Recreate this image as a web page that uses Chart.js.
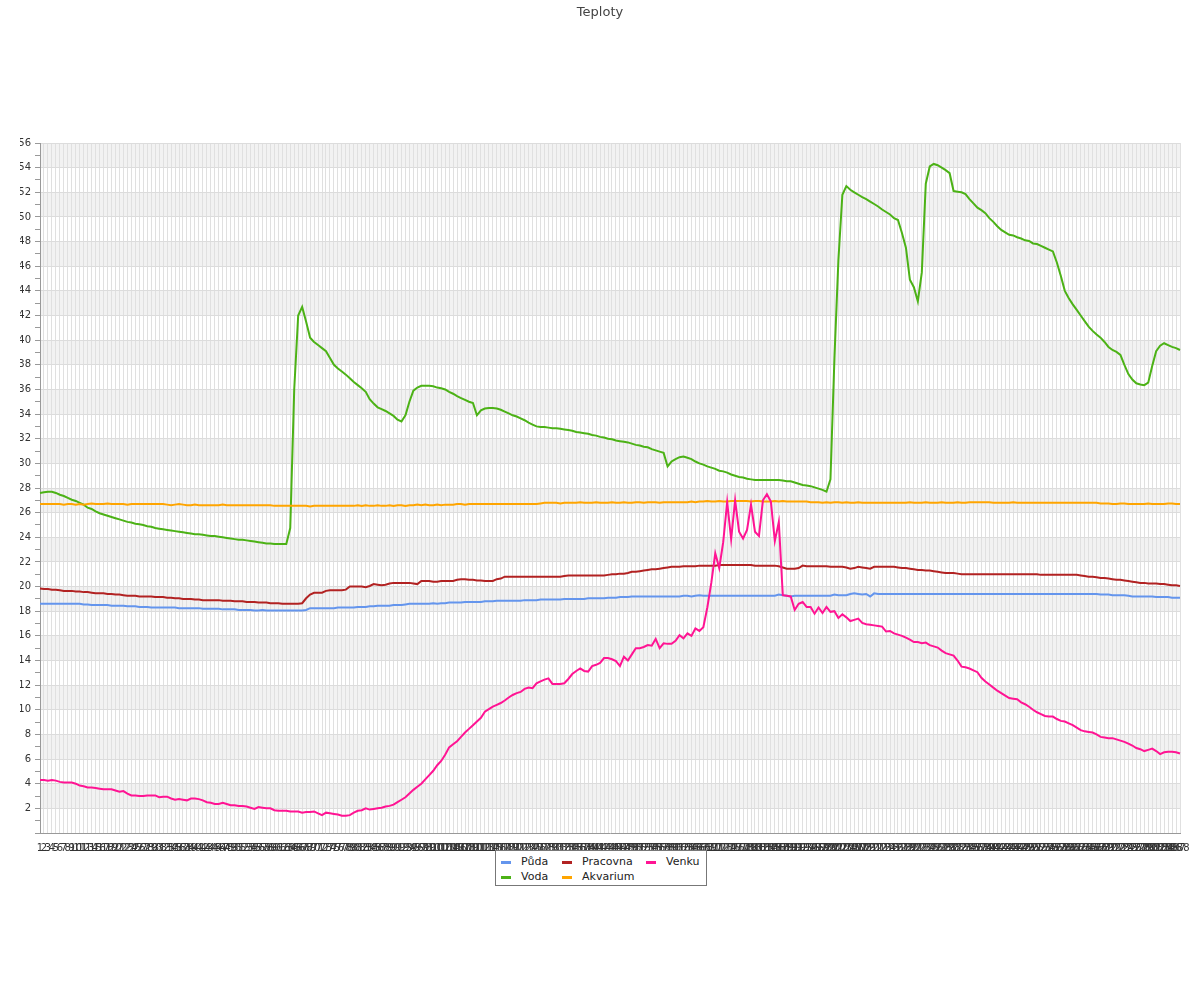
<!DOCTYPE html>
<html><head><meta charset="utf-8">
<script src="https://cdn.jsdelivr.net/npm/chart.js@4.4.1/dist/chart.umd.min.js"></script>
<style>
html,body{margin:0;padding:0;background:#fff;}
#wrap{position:relative;width:1200px;height:1000px;}
#c{position:absolute;left:0;top:0;}
#legend{position:absolute;left:495px;top:850px;width:210px;height:34px;border:1px solid #777;background:#fff;font:11px "DejaVu Sans",sans-serif;color:#222;}
.item{position:absolute;white-space:nowrap;line-height:13px;}
.sw{position:absolute;width:10px;height:3px;}
</style></head><body>
<div id="wrap"><canvas id="c" width="1200" height="1000"></canvas><div id="legend"></div></div>
<script>
const categories = Array.from({length: 288}, (_, i) => String(i + 1));

const puda = [
18.6,18.6,18.6,18.6,18.6,18.6,18.6,18.6,18.6,18.6,
18.6,18.55,18.55,18.5,18.5,18.5,18.5,18.5,18.45,18.45,
18.45,18.45,18.4,18.4,18.4,18.35,18.35,18.35,18.3,18.3,
18.3,18.3,18.3,18.3,18.3,18.25,18.25,18.25,18.25,18.25,
18.25,18.2,18.2,18.2,18.2,18.2,18.15,18.15,18.15,18.15,
18.1,18.1,18.1,18.1,18.05,18.05,18.1,18.05,18.05,18.05,
18.05,18.05,18.05,18.05,18.05,18.05,18.05,18.1,18.25,18.25,
18.25,18.25,18.25,18.25,18.25,18.3,18.3,18.3,18.3,18.3,
18.35,18.35,18.35,18.4,18.4,18.45,18.45,18.45,18.45,18.5,
18.5,18.5,18.55,18.6,18.6,18.6,18.6,18.6,18.6,18.65,
18.6,18.65,18.65,18.7,18.7,18.7,18.7,18.75,18.75,18.75,
18.75,18.75,18.8,18.8,18.8,18.85,18.85,18.85,18.85,18.85,
18.85,18.85,18.9,18.9,18.9,18.9,18.95,18.95,18.95,18.95,
18.95,18.95,19.0,19.0,19.0,19.0,19.0,19.0,19.05,19.05,
19.05,19.05,19.05,19.1,19.1,19.1,19.15,19.15,19.15,19.2,
19.2,19.2,19.2,19.2,19.2,19.2,19.2,19.2,19.2,19.2,
19.2,19.2,19.25,19.25,19.2,19.25,19.3,19.25,19.25,19.25,
19.25,19.25,19.25,19.25,19.25,19.25,19.25,19.25,19.25,19.25,
19.25,19.25,19.25,19.25,19.25,19.25,19.35,19.3,19.25,19.2,
19.25,19.25,19.25,19.25,19.25,19.25,19.25,19.25,19.25,19.25,
19.35,19.3,19.3,19.3,19.4,19.45,19.4,19.35,19.4,19.2,
19.45,19.4,19.4,19.4,19.4,19.4,19.4,19.4,19.4,19.4,
19.4,19.4,19.4,19.4,19.4,19.4,19.4,19.4,19.4,19.4,
19.4,19.4,19.4,19.4,19.4,19.4,19.4,19.4,19.4,19.4,
19.4,19.4,19.4,19.4,19.4,19.4,19.4,19.4,19.4,19.4,
19.4,19.4,19.4,19.4,19.4,19.4,19.4,19.4,19.4,19.4,
19.4,19.4,19.4,19.4,19.4,19.4,19.4,19.35,19.35,19.35,
19.3,19.3,19.3,19.3,19.25,19.2,19.2,19.2,19.2,19.2,
19.2,19.15,19.15,19.15,19.15,19.1,19.1,19.1];

const voda = [
27.6,27.65,27.7,27.7,27.6,27.45,27.35,27.2,27.05,26.95,
26.8,26.65,26.4,26.3,26.1,25.95,25.85,25.75,25.65,25.55,
25.45,25.35,25.25,25.2,25.1,25.05,25.0,24.9,24.85,24.75,
24.7,24.65,24.6,24.55,24.5,24.45,24.4,24.35,24.3,24.25,
24.25,24.2,24.15,24.1,24.1,24.05,24.0,23.95,23.9,23.85,
23.8,23.8,23.75,23.7,23.65,23.6,23.55,23.5,23.5,23.45,
23.45,23.45,23.45,24.75,36.0,42.0,42.7,41.5,40.2,39.85,
39.6,39.35,39.1,38.55,38.0,37.7,37.45,37.2,36.9,36.6,
36.35,36.1,35.8,35.2,34.85,34.55,34.4,34.25,34.05,33.85,
33.55,33.4,33.9,35.0,35.9,36.15,36.3,36.3,36.3,36.25,
36.15,36.1,36.0,35.8,35.65,35.45,35.3,35.15,35.0,34.9,
33.9,34.3,34.45,34.5,34.5,34.45,34.35,34.2,34.05,33.9,
33.8,33.65,33.5,33.3,33.15,33.0,32.95,32.95,32.9,32.85,
32.85,32.8,32.75,32.7,32.65,32.55,32.5,32.45,32.4,32.3,
32.25,32.15,32.1,32.0,31.95,31.85,31.8,31.75,31.7,31.6,
31.5,31.45,31.35,31.3,31.15,31.05,30.95,30.85,29.75,30.15,
30.35,30.5,30.55,30.45,30.35,30.15,30.0,29.9,29.75,29.65,
29.55,29.4,29.35,29.25,29.1,29.0,28.9,28.85,28.75,28.7,
28.65,28.65,28.65,28.65,28.65,28.65,28.65,28.6,28.55,28.55,
28.45,28.35,28.25,28.2,28.15,28.05,27.95,27.85,27.7,28.7,
38.5,46.5,51.8,52.5,52.2,52.0,51.8,51.6,51.45,51.25,
51.05,50.85,50.6,50.4,50.2,49.9,49.75,48.7,47.5,44.9,
44.3,43.15,45.5,52.7,54.1,54.3,54.2,54.0,53.8,53.55,
52.1,52.05,52.0,51.85,51.45,51.1,50.75,50.55,50.3,49.9,
49.6,49.25,48.95,48.75,48.55,48.5,48.35,48.25,48.1,48.05,
47.85,47.8,47.65,47.5,47.35,47.2,46.3,45.2,44.0,43.4,
42.9,42.45,42.0,41.55,41.1,40.75,40.45,40.2,39.85,39.45,
39.2,39.05,38.8,38.0,37.25,36.8,36.5,36.4,36.35,36.55,
37.9,39.1,39.55,39.75,39.6,39.45,39.35,39.2];

const pracovna = [
19.85,19.8,19.8,19.75,19.75,19.7,19.65,19.65,19.65,19.6,
19.6,19.55,19.55,19.5,19.45,19.45,19.45,19.4,19.4,19.35,
19.35,19.3,19.25,19.25,19.25,19.2,19.2,19.2,19.2,19.15,
19.15,19.15,19.1,19.1,19.05,19.05,19.0,19.0,19.0,18.95,
18.95,18.9,18.9,18.9,18.9,18.9,18.85,18.85,18.85,18.8,
18.8,18.8,18.75,18.75,18.75,18.7,18.7,18.7,18.65,18.65,
18.65,18.6,18.6,18.6,18.6,18.6,18.65,19.05,19.35,19.5,
19.5,19.5,19.65,19.7,19.7,19.7,19.7,19.75,20.0,20.0,
20.0,20.0,19.95,20.05,20.2,20.15,20.1,20.15,20.25,20.3,
20.3,20.3,20.3,20.3,20.25,20.2,20.45,20.45,20.45,20.4,
20.4,20.45,20.45,20.45,20.45,20.55,20.6,20.6,20.55,20.55,
20.5,20.5,20.45,20.45,20.45,20.6,20.65,20.8,20.8,20.8,
20.8,20.8,20.8,20.8,20.8,20.8,20.8,20.8,20.8,20.8,
20.8,20.8,20.85,20.9,20.9,20.9,20.9,20.9,20.9,20.9,
20.9,20.9,20.9,20.95,21.0,21.0,21.05,21.05,21.1,21.2,
21.2,21.25,21.3,21.35,21.4,21.4,21.45,21.5,21.55,21.6,
21.6,21.6,21.65,21.65,21.65,21.65,21.7,21.7,21.7,21.7,
21.7,21.75,21.75,21.75,21.75,21.75,21.75,21.75,21.75,21.75,
21.7,21.7,21.7,21.7,21.7,21.7,21.65,21.55,21.45,21.45,
21.45,21.5,21.7,21.65,21.65,21.65,21.65,21.65,21.65,21.6,
21.6,21.6,21.6,21.55,21.45,21.5,21.6,21.55,21.5,21.45,
21.6,21.6,21.6,21.6,21.6,21.6,21.55,21.5,21.5,21.45,
21.4,21.35,21.35,21.3,21.3,21.25,21.2,21.15,21.1,21.1,
21.1,21.05,21.0,21.0,21.0,21.0,21.0,21.0,21.0,21.0,
21.0,21.0,21.0,21.0,21.0,21.0,21.0,21.0,21.0,21.0,
21.0,21.0,20.95,20.95,20.95,20.95,20.95,20.95,20.95,20.95,
20.95,20.95,20.9,20.85,20.8,20.8,20.75,20.7,20.7,20.65,
20.6,20.55,20.55,20.5,20.45,20.4,20.35,20.3,20.3,20.25,
20.25,20.25,20.2,20.2,20.15,20.1,20.1,20.05];

const akvarium = [
26.7,26.7,26.7,26.7,26.7,26.7,26.65,26.7,26.7,26.65,
26.7,26.65,26.7,26.75,26.7,26.7,26.7,26.75,26.7,26.7,
26.7,26.7,26.65,26.7,26.7,26.7,26.7,26.7,26.7,26.7,
26.7,26.7,26.65,26.6,26.65,26.7,26.65,26.6,26.6,26.65,
26.6,26.6,26.6,26.6,26.6,26.6,26.65,26.6,26.6,26.6,
26.6,26.6,26.6,26.6,26.6,26.6,26.6,26.6,26.6,26.55,
26.55,26.55,26.55,26.55,26.55,26.55,26.55,26.55,26.5,26.55,
26.55,26.55,26.55,26.55,26.55,26.55,26.55,26.55,26.55,26.55,
26.6,26.55,26.6,26.55,26.55,26.6,26.55,26.55,26.6,26.55,
26.6,26.6,26.55,26.6,26.6,26.65,26.6,26.65,26.6,26.6,
26.65,26.6,26.65,26.65,26.65,26.7,26.7,26.65,26.7,26.7,
26.7,26.7,26.7,26.7,26.7,26.7,26.7,26.7,26.7,26.7,
26.7,26.7,26.7,26.7,26.7,26.7,26.75,26.8,26.8,26.8,
26.8,26.75,26.8,26.8,26.8,26.8,26.85,26.8,26.8,26.8,
26.85,26.8,26.8,26.8,26.85,26.8,26.8,26.85,26.8,26.8,
26.85,26.85,26.8,26.85,26.85,26.85,26.8,26.85,26.85,26.85,
26.85,26.85,26.85,26.85,26.9,26.85,26.9,26.9,26.95,26.9,
26.9,26.95,26.9,26.9,26.95,26.95,26.95,26.95,26.95,26.9,
26.95,26.95,26.9,26.9,26.9,26.95,26.9,26.95,26.9,26.9,
26.9,26.9,26.9,26.9,26.85,26.85,26.85,26.8,26.85,26.8,
26.85,26.85,26.8,26.85,26.8,26.8,26.85,26.8,26.8,26.8,
26.8,26.8,26.8,26.8,26.8,26.8,26.8,26.8,26.8,26.85,
26.8,26.8,26.8,26.85,26.8,26.8,26.8,26.85,26.8,26.8,
26.8,26.85,26.8,26.8,26.85,26.85,26.85,26.85,26.85,26.85,
26.8,26.8,26.8,26.8,26.8,26.85,26.8,26.8,26.8,26.8,
26.8,26.8,26.8,26.8,26.8,26.8,26.8,26.8,26.8,26.8,
26.8,26.8,26.8,26.8,26.8,26.8,26.8,26.75,26.75,26.75,
26.7,26.7,26.75,26.75,26.7,26.7,26.7,26.7,26.7,26.75,
26.7,26.7,26.7,26.7,26.75,26.75,26.7,26.7];

const venku = [
4.3,4.3,4.25,4.3,4.25,4.15,4.1,4.1,4.1,4.0,
3.85,3.8,3.7,3.7,3.65,3.6,3.55,3.55,3.55,3.45,
3.35,3.4,3.2,3.05,3.05,3.0,3.0,3.05,3.05,3.05,
2.9,2.95,2.95,2.8,2.7,2.75,2.7,2.65,2.8,2.8,
2.75,2.65,2.5,2.45,2.35,2.35,2.45,2.35,2.25,2.25,
2.2,2.2,2.15,2.05,1.95,2.1,2.05,2.0,2.0,1.85,
1.8,1.8,1.8,1.75,1.75,1.75,1.65,1.7,1.7,1.75,
1.6,1.45,1.65,1.6,1.55,1.5,1.4,1.4,1.45,1.65,
1.8,1.85,2.0,1.9,1.95,2.0,2.05,2.15,2.2,2.3,
2.5,2.7,2.9,3.2,3.5,3.75,4.0,4.35,4.7,5.05,
5.5,5.85,6.35,6.95,7.2,7.45,7.8,8.15,8.45,8.75,
9.05,9.35,9.85,10.05,10.25,10.4,10.55,10.75,11.0,11.2,
11.35,11.45,11.7,11.8,11.75,12.15,12.3,12.45,12.55,12.1,
12.1,12.1,12.15,12.5,12.9,13.15,13.35,13.15,13.1,13.55,
13.65,13.8,14.2,14.2,14.1,13.95,13.55,14.3,14.0,14.5,
15.0,15.0,15.1,15.25,15.2,15.75,15.0,15.4,15.35,15.35,
15.6,16.05,15.8,16.2,16.0,16.6,16.4,16.7,18.3,20.3,
22.7,21.5,23.6,26.85,23.85,27.0,24.45,23.9,24.6,26.65,
24.45,24.1,27.0,27.5,26.9,23.7,25.25,19.3,19.25,19.2,
18.1,18.6,18.75,18.35,18.35,17.8,18.3,17.85,18.35,17.95,
18.0,17.45,17.75,17.5,17.2,17.3,17.4,17.05,16.95,16.9,
16.85,16.8,16.75,16.35,16.4,16.2,16.1,16.0,15.85,15.7,
15.5,15.5,15.4,15.45,15.25,15.15,15.05,14.8,14.6,14.5,
14.4,14.0,13.5,13.45,13.35,13.2,13.05,12.6,12.3,12.05,
11.8,11.55,11.35,11.15,10.95,10.9,10.85,10.6,10.45,10.25,
10.0,9.8,9.65,9.5,9.45,9.45,9.25,9.1,9.05,8.9,
8.75,8.55,8.35,8.25,8.2,8.15,8.0,7.8,7.75,7.7,
7.7,7.6,7.5,7.4,7.25,7.1,6.9,6.8,6.65,6.75,
6.85,6.65,6.4,6.55,6.6,6.6,6.55,6.45];

const seriesNames = ['Půda', 'Voda', 'Pracovna', 'Akvarium', 'Venku'];
const seriesColors = ['#6495ed', '#4cb216', '#b22222', '#ffa500', '#ff1493'];
const seriesData = [puda, voda, pracovna, akvarium, venku];
const yTickLabels = [2,4,6,8,10,12,14,16,18,20,22,24,26,28,30,32,34,36,38,40,42,44,46,48,50,52,54,56];

const FONT = '"DejaVu Sans", sans-serif';

const bandsPlugin = {
  id: 'bands',
  beforeDraw(chart) {
    const {ctx, chartArea: a, scales: {y}} = chart;
    ctx.save();
    ctx.fillStyle = '#f2f2f2';
    for (let v = 2; v < 56; v += 4) {
      const t = y.getPixelForValue(v + 2), b = y.getPixelForValue(v);
      ctx.fillRect(a.left, t, a.right - a.left, b - t);
    }
    ctx.restore();
  }
};

const chart = new Chart(document.getElementById('c'), {
  type: 'line',
  data: {
    labels: categories,
    datasets: seriesNames.map((n, i) => ({
      label: n,
      data: seriesData[i],
      borderColor: seriesColors[i],
      backgroundColor: seriesColors[i],
      borderWidth: 2,
      pointRadius: 0,
      tension: 0,
      fill: false,
      order: seriesNames.length - i
    }))
  },
  options: {
    responsive: false,
    animation: false,
    devicePixelRatio: 1,
    layout: {padding: {left: 20, right: 20, top: 0, bottom: 137}},
    plugins: {
      legend: {display: false},
      tooltip: {enabled: false},
      title: {
        display: true, text: 'Teploty', color: '#444',
        font: {family: FONT, size: 13, weight: 'normal'},
        padding: {top: 5, bottom: 122.4}
      }
    },
    scales: {
      x: {
        type: 'category', offset: false,
        grid: {color: '#e0e0e0', drawTicks: false, lineWidth: 1},
        border: {color: '#999'},
        ticks: {autoSkip: false, maxRotation: 0, minRotation: 0, padding: 9,
                font: {family: FONT, size: 10}, color: '#333'},
        afterFit(s) { s.height = 30; }
      },
      y: {
        min: 0, max: 56,
        grid: {
          color: c => (c.tick && yTickLabels.includes(c.tick.value)) ? '#dcdcdc' : 'rgba(0,0,0,0)',
          tickColor: '#999', tickLength: 5
        },
        border: {color: '#999'},
        ticks: {stepSize: 1, autoSkip: false, padding: 4,
                font: {family: FONT, size: 10}, color: '#333',
                callback: v => yTickLabels.includes(v) ? String(v) : ''},
        afterFit(s) { s.width = 20; }
      }
    }
  },
  plugins: [bandsPlugin]
});

// legend, column-major in two rows
const leg = document.getElementById('legend');
const colX = [5, 66, 150];
const rowY = [4, 19];
chart.data.datasets.forEach((ds, i) => {
  const col = Math.floor(i / 2), row = i % 2;
  const sw = document.createElement('div');
  sw.className = 'sw';
  sw.style.left = colX[col] + 'px';
  sw.style.top = (rowY[row] + 6) + 'px';
  sw.style.background = ds.borderColor;
  leg.appendChild(sw);
  const t = document.createElement('div');
  t.className = 'item';
  t.style.left = (colX[col] + 20) + 'px';
  t.style.top = rowY[row] + 'px';
  t.textContent = ds.label;
  leg.appendChild(t);
});
</script>
</body></html>
